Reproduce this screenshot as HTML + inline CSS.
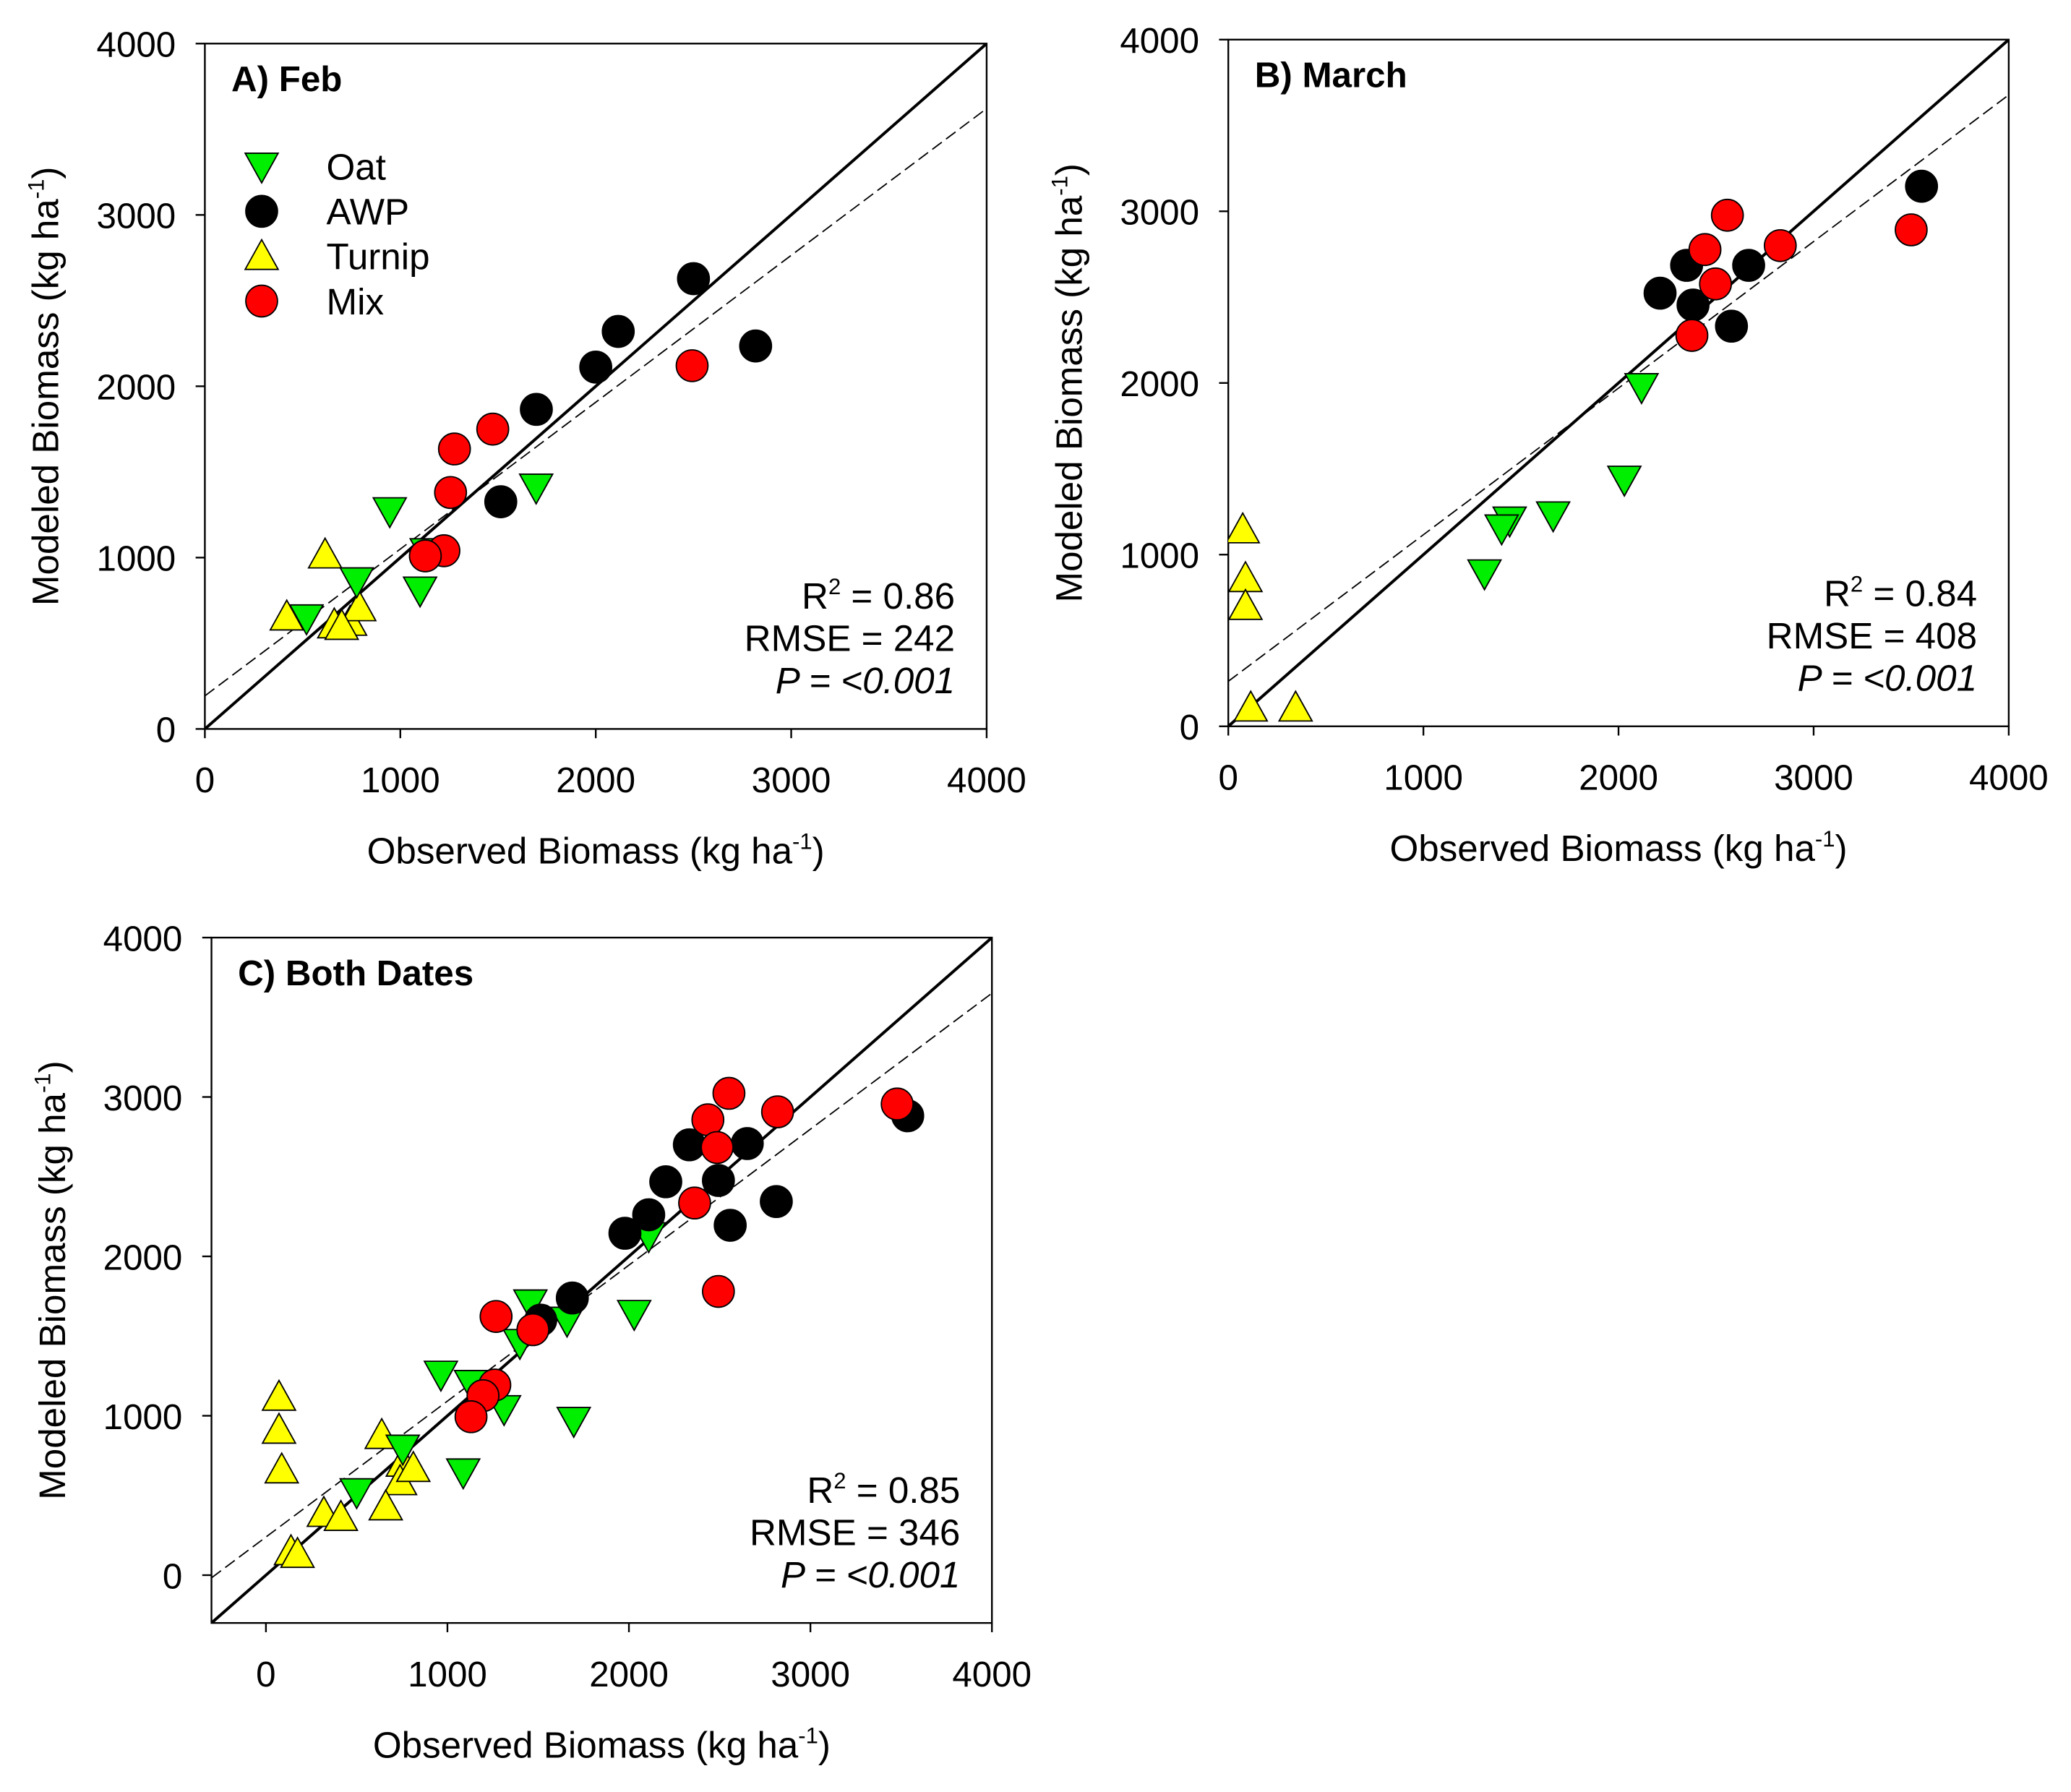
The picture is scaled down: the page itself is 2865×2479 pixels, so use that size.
<!DOCTYPE html>
<html><head><meta charset="utf-8"><style>
html,body{margin:0;padding:0;background:#fff}
svg{display:block;font-family:"Liberation Sans",Arial,sans-serif}
</style></head><body>
<svg id="fig" width="2865" height="2479" viewBox="0 0 1568 1357" xmlns="http://www.w3.org/2000/svg"></svg>
<script>
// Panel A (Feb)
const aOatX=[520,946,777,1101,1135,1695];
const aOatY=[647,1272,863,809,1033,1410];
const aAwpX=[2500,2115,2000,1696,1514,2818];
const aAwpY=[2628,2320,2112,1865,1326,2235];
const aTurX=[419,615,662,743,790,700];
const aTurY=[655,1017,609,624,709,600];
const aMixX=[2493,1473,1277,1257,1223,1128];
const aMixY=[2120,1750,1634,1380,1040,1010];
const aFit=[0.857,193];
// Panel B (March)
const bOatX=[2118,2030,1665,1442,1401,1313];
const bOatY=[1977,1438,1230,1200,1154,892];
const bAwpX=[3553,2213,2349,2382,2667,2579];
const bAwpY=[3146,2523,2685,2454,2685,2331];
const bTurX=[74,88,88,115,345];
const bTurY=[1146,862,700,108,108];
const bMixX=[3500,2558,2443,2829,2497,2376];
const bMixY=[2892,2977,2777,2800,2577,2277];
const bFit=[0.854,262];
// Panel C (Both dates)
const cOatX=[500,754,964,1130,1087,1312,1457,1399,1659,2029,1696,2109];
const cOatY=[522,795,1259,1201,646,1043,1706,1458,1598,1640,969,2128];
const cAwpX=[1978,2109,2203,2333,2652,2493,2558,2812,3536,1688,1514];
const cAwpY=[2145,2261,2468,2700,2708,2476,2195,2344,2882,1739,1600];
const cTurX=[72,72,87,638,754,739,812,660,319,413,138,174];
const cTurY=[1118,911,662,878,704,588,671,430,389,364,149,132];
const cMixX=[3478,2551,2435,2819,2486,2362,2493,1268,1471,1261,1196,1130];
const cMixY=[2956,3023,2857,2907,2683,2335,1780,1623,1540,1193,1126,994];
const cFit=[0.853,239];
const ticks=[0,1000,2000,3000,4000];

const NS="http://www.w3.org/2000/svg";
const svg=document.getElementById('fig');
function mk(tag,attrs,parent){const e=document.createElementNS(NS,tag);for(const k in attrs)e.setAttribute(k,attrs[k]);(parent||svg).appendChild(e);return e;}

function panel(cfg){
  const g=mk('g',{});
  
  
  const {L,R,T,B,min,max}=cfg;
  const sx=v=>L+(v-min)/(max-min)*(R-L);
  const sy=v=>B-(v-min)/(max-min)*(B-T);
  const cid='clip'+cfg.name;
  const cp=mk('clipPath',{id:cid},g);mk('rect',{x:L,y:T,width:R-L,height:B-T},cp);
  const one=mk('line',{x1:sx(min),y1:sy(min),x2:sx(max),y2:sy(max),stroke:'#000','stroke-width':2.2,'clip-path':`url(#${cid})`},g);
  
  
  const f=cfg.fit;
  const reg=mk('line',{x1:sx(min),y1:sy(f[0]*min+f[1]),x2:sx(max),y2:sy(f[0]*max+f[1]),stroke:'#000','stroke-width':1,'stroke-dasharray':'9,4','clip-path':`url(#${cid})`},g);
  
  
  const fr=mk('rect',{x:L,y:T,width:R-L,height:B-T,fill:'none',stroke:'#000','stroke-width':1.3},g);
  
  
  ticks.forEach(t=>{
    mk('line',{x1:sx(t),y1:B,x2:sx(t),y2:B+7,stroke:'#000','stroke-width':1.3},g);
    const xt=mk('text',{x:sx(t),y:B+48,'text-anchor':'middle','font-size':27},g);xt.textContent=t;
    
    
    mk('line',{x1:L,y1:sy(t),x2:L-7,y2:sy(t),stroke:'#000','stroke-width':1.3},g);
    const yt=mk('text',{x:L-22,y:sy(t)+10,'text-anchor':'end','font-size':27},g);yt.textContent=t;
    
    
  });
  const xtl=mk('text',{x:(L+R)/2,y:B+102,'text-anchor':'middle','font-size':28},g);
  xtl.innerHTML='Observed Biomass (kg ha<tspan dy="-11" font-size="17">-1</tspan><tspan dy="11">)</tspan>';
  
  
  if(cfg.ytitle){
    const cx=L-111,cy=(T+B)/2;
    const ytl=mk('text',{x:cx,y:cy,'text-anchor':'middle','font-size':28,transform:`rotate(-90 ${cx} ${cy})`},g);
    ytl.innerHTML='Modeled Biomass (kg ha<tspan dy="-11" font-size="17">-1</tspan><tspan dy="11">)</tspan>';
    
    
  }
  const pt=mk('text',{x:L+20,y:T+36,'font-size':27,'font-weight':'bold'},g);pt.textContent=cfg.title;
  
  
  const st=[cfg.stats[0],cfg.stats[1]];
  const s1=mk('text',{x:R-24,y:B-91,'text-anchor':'end','font-size':28},g);
  s1.innerHTML='R<tspan dy="-11" font-size="17">2</tspan><tspan dy="11"> = '+st[0]+'</tspan>';
  
  
  const s2=mk('text',{x:R-24,y:B-59,'text-anchor':'end','font-size':28},g);s2.textContent='RMSE = '+st[1];
  
  
  const s3=mk('text',{x:R-24,y:B-27,'text-anchor':'end','font-size':28,'font-style':'italic'},g);s3.textContent='P = <0.001';
  
  
  const pg=mk('g',{'clip-path':`url(#${cid})`},g);
  const draw=(xs,ys,type)=>xs.forEach((v,i)=>marker(pg,sx(v),sy(ys[i]),type));
  draw(cfg.tur[0],cfg.tur[1],'tur');
  draw(cfg.oat[0],cfg.oat[1],'oat');
  draw(cfg.awp[0],cfg.awp[1],'awp');
  draw(cfg.mix[0],cfg.mix[1],'mix');
  return g;
}
function marker(p,x,y,type){
  let e;
  if(type==='oat'){e=mk('polygon',{points:`${x-12.5},${y-10} ${x+12.5},${y-10} ${x},${y+12.5}`,fill:'#00ee00',stroke:'#000','stroke-width':1},p);}
  else if(type==='tur'){e=mk('polygon',{points:`${x-12.5},${y+10} ${x+12.5},${y+10} ${x},${y-12.5}`,fill:'#ffff00',stroke:'#000','stroke-width':1},p);}
  else {e=mk('circle',{cx:x,cy:y,r:12,fill:type==='awp'?'#000':'#ff0000',stroke:'#000','stroke-width':1},p);}
  
  
  return e;
}
panel({name:'panel-a',L:155,R:747,T:33,B:552,min:0,max:4000,title:'A) Feb',ytitle:true,stats:['0.86','242'],fit:aFit,oat:[aOatX,aOatY],awp:[aAwpX,aAwpY],tur:[aTurX,aTurY],mix:[aMixX,aMixY]});
panel({name:'panel-b',L:930,R:1521,T:30,B:550,min:0,max:4000,title:'B) March',ytitle:true,stats:['0.84','408'],fit:bFit,oat:[bOatX,bOatY],awp:[bAwpX,bAwpY],tur:[bTurX,bTurY],mix:[bMixX,bMixY]});
panel({name:'panel-c',L:160,R:751,T:710,B:1229,min:-300,max:4000,title:'C) Both Dates',ytitle:true,stats:['0.85','346'],fit:cFit,oat:[cOatX,cOatY],awp:[cAwpX,cAwpY],tur:[cTurX,cTurY],mix:[cMixX,cMixY]});
const lg=mk('g',{});


const legNames=['Oat','AWP','Turnip','Mix'];
const legTypes=['oat','awp','tur','mix'];
legNames.forEach((n,i)=>{
  const y=126+i*34;
  marker(lg,198,y,legTypes[i]);
  const t=mk('text',{x:247,y:y+10,'font-size':28},lg);t.textContent=n;
  
  
});
</script>
</body></html>
